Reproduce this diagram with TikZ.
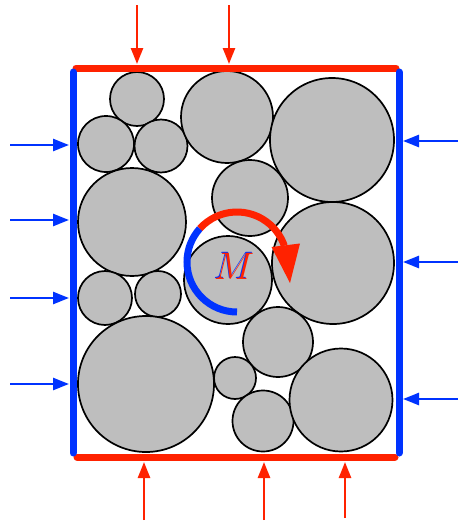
\documentclass[tikz,border=0pt]{standalone}
\usetikzlibrary{arrows.meta}
\definecolor{wallred}{RGB}{255,34,0}
\definecolor{wallblue}{RGB}{0,51,255}
\definecolor{grainfill}{RGB}{190,190,190}
\begin{document}
\begin{tikzpicture}[x=1pt,y=-1pt,
  grainnode/.style={circle,draw=black,line width=1.7pt,fill=grainfill,inner sep=0pt,outer sep=0pt},
  wallr/.style={wallred,line width=7pt,line cap=round},
  wallb/.style={wallblue,line width=7pt,line cap=round},
  forcer/.style={wallred,line width=2.5pt,-{Triangle[length=16pt,width=12pt]}},
  forceb/.style={wallblue,line width=2.5pt,-{Triangle[length=16pt,width=12pt]}},
  momentlbl/.style={font=\huge,inner sep=0pt,scale=1.85,transform shape}
]
\useasboundingbox (0,0) rectangle (458,525);

% grains
\node[grainnode,minimum size=54pt]  (g1)  at (137,99)  {};
\node[grainnode,minimum size=56pt]  (g2)  at (106,144) {};
\node[grainnode,minimum size=53pt]  (g3)  at (161,146) {};
\node[grainnode,minimum size=92pt]  (g4)  at (227,117) {};
\node[grainnode,minimum size=124pt] (g5)  at (332,140) {};
\node[grainnode,minimum size=108pt] (g6)  at (132,222) {};
\node[grainnode,minimum size=76pt]  (g7)  at (250,198) {};
\node[grainnode,minimum size=88pt]  (g8)  at (228,280) {};
\node[grainnode,minimum size=122pt] (g9)  at (333,263) {};
\node[grainnode,minimum size=54pt]  (g10) at (105,298) {};
\node[grainnode,minimum size=46pt]  (g11) at (158,294) {};
\node[grainnode,minimum size=136pt] (g12) at (146,384) {};
\node[grainnode,minimum size=70pt]  (g13) at (278,342) {};
\node[grainnode,minimum size=42pt]  (g14) at (235,378) {};
\node[grainnode,minimum size=61pt]  (g15) at (263,421) {};
\node[grainnode,minimum size=103pt] (g16) at (341,400) {};

% walls
\coordinate (tl) at (76,68);  \coordinate (tr) at (396,68);
\coordinate (bl) at (77,457); \coordinate (br) at (395,457);
\coordinate (lt) at (73,72);  \coordinate (lb) at (73,453);
\coordinate (rt) at (399,72); \coordinate (rb) at (399,453);
\draw[wallr] (tl) -- (tr);
\draw[wallr] (bl) -- (br);
\draw[wallb] (lt) -- (lb);
\draw[wallb] (rt) -- (rb);

% top forces
\coordinate (ft1s) at (137,5);   \coordinate (ft1e) at (137,64);
\coordinate (ft2s) at (229,5);   \coordinate (ft2e) at (229,64);
\draw[forcer] (ft1s) -- (ft1e);
\draw[forcer] (ft2s) -- (ft2e);
% bottom forces
\coordinate (fb1s) at (144,520); \coordinate (fb1e) at (144,462);
\coordinate (fb2s) at (264,520); \coordinate (fb2e) at (264,462);
\coordinate (fb3s) at (345,518); \coordinate (fb3e) at (345,462);
\draw[forcer] (fb1s) -- (fb1e);
\draw[forcer] (fb2s) -- (fb2e);
\draw[forcer] (fb3s) -- (fb3e);
% left forces
\coordinate (fl1s) at (10,145); \coordinate (fl1e) at (69,145);
\coordinate (fl2s) at (10,220); \coordinate (fl2e) at (69,220);
\coordinate (fl3s) at (10,298); \coordinate (fl3e) at (69,298);
\coordinate (fl4s) at (10,384); \coordinate (fl4e) at (69,384);
\draw[forceb] (fl1s) -- (fl1e);
\draw[forceb] (fl2s) -- (fl2e);
\draw[forceb] (fl3s) -- (fl3e);
\draw[forceb] (fl4s) -- (fl4e);
% right forces
\coordinate (fr1s) at (458,141); \coordinate (fr1e) at (403,141);
\coordinate (fr2s) at (458,262); \coordinate (fr2e) at (403,262);
\coordinate (fr3s) at (458,399); \coordinate (fr3e) at (403,399);
\draw[forceb] (fr1s) -- (fr1e);
\draw[forceb] (fr2s) -- (fr2e);
\draw[forceb] (fr3s) -- (fr3e);

% moment arrow
\coordinate (mblue) at (237,312);
\coordinate (mred) at (199.84,228.54);
\draw[wallblue,line width=7pt] (mblue) arc[start angle=-90,end angle=-222,radius=50pt];
\draw[wallred,line width=7pt] (mred) arc[start angle=138,end angle=19,radius=50pt];
\coordinate (hA) at (271.5,247);
\coordinate (hB) at (300,243.5);
\coordinate (hT) at (290,283);
\fill[wallred] (hA) -- (hB) -- (hT) -- cycle;

% label
\node[momentlbl,text=wallblue] (Mshadow) at (233.2,265.4) {$M$};
\node[momentlbl,text=wallred]  (M)       at (234,266) {$M$};
\end{tikzpicture}
\end{document}
